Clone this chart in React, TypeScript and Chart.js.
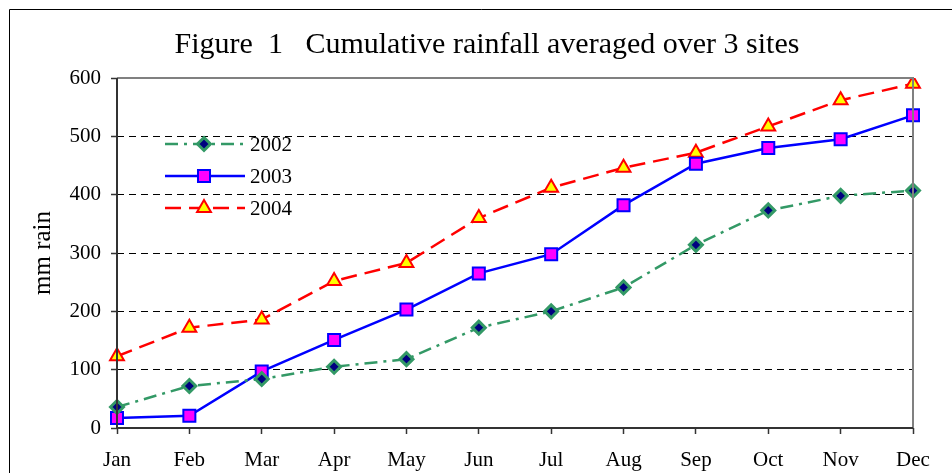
import React, { useEffect, useRef } from "react";
import { Chart, registerables } from "chart.js";

Chart.register(...registerables);

const months = ["Jan", "Feb", "Mar", "Apr", "May", "Jun", "Jul", "Aug", "Sep", "Oct", "Nov", "Dec"];
const rain2002 = [36, 72, 84, 105, 118, 172, 200, 241, 314, 373, 398, 407];
const rain2003 = [17, 21, 97, 151, 203, 265, 298, 382, 453, 480, 495, 536];
const rain2004 = [123, 172, 186, 252, 283, 360, 412, 446, 472, 517, 562, 590];
const seriesNames = ["2002", "2003", "2004"];
const yTicks = [0, 100, 200, 300, 400, 500, 600];
const titleText = "Figure  1   Cumulative rainfall averaged over 3 sites";
const yTitle = "mm rain";

const SERIF = "'Liberation Serif', 'Times New Roman', serif";

function drawMarker(ctx: CanvasRenderingContext2D, style: string, r: number, x: number, y: number) {
  ctx.beginPath();
  if (style === "rect") {
    const s = Math.SQRT1_2 * r;
    ctx.rect(x - s, y - s, 2 * s, 2 * s);
  } else if (style === "rectRot") {
    ctx.moveTo(x, y - r);
    ctx.lineTo(x + r, y);
    ctx.lineTo(x, y + r);
    ctx.lineTo(x - r, y);
    ctx.closePath();
  } else if (style === "triangle") {
    const a = (2 * Math.PI) / 3;
    ctx.moveTo(x, y - r);
    ctx.lineTo(x + Math.sin(a) * r, y - Math.cos(a) * r);
    ctx.lineTo(x + Math.sin(2 * a) * r, y - Math.cos(2 * a) * r);
    ctx.closePath();
  }
  ctx.fill();
  ctx.stroke();
}

const decorPlugin = {
  id: "decor",
  beforeDraw(chart: any) {
    const ctx = chart.ctx;
    ctx.save();
    ctx.fillStyle = "#ffffff";
    ctx.fillRect(0, 0, chart.width, chart.height);
    ctx.restore();
  },
  afterDraw(chart: any) {
    const ctx = chart.ctx;
    const a = chart.chartArea;
    ctx.save();
    // outer frame (top & left visible)
    ctx.strokeStyle = "#000000";
    ctx.lineWidth = 1;
    ctx.beginPath();
    ctx.moveTo(9.5, chart.height + 5);
    ctx.lineTo(9.5, 9.5);
    ctx.lineTo(chart.width + 5, 9.5);
    ctx.stroke();

    // title
    ctx.fillStyle = "#000000";
    ctx.font = `30px ${SERIF}`;
    ctx.textAlign = "center";
    ctx.textBaseline = "middle";
    ctx.fillText(titleText, 487, 45);

    // y title
    ctx.save();
    ctx.translate(43, 253);
    ctx.rotate(-Math.PI / 2);
    ctx.font = `25px ${SERIF}`;
    ctx.fillText(yTitle, 0, 0);
    ctx.restore();

    // legend
    const rows = [144, 176, 208];
    chart.data.datasets.forEach((ds: any, i: number) => {
      const y = rows[i];
      ctx.save();
      ctx.strokeStyle = ds.borderColor;
      ctx.lineWidth = ds.borderWidth;
      ctx.setLineDash(ds.borderDash || []);
      ctx.beginPath();
      ctx.moveTo(165, y);
      ctx.lineTo(245, y);
      ctx.stroke();
      ctx.restore();
      ctx.save();
      ctx.fillStyle = ds.pointBackgroundColor;
      ctx.strokeStyle = ds.pointBorderColor;
      ctx.lineWidth = ds.pointBorderWidth;
      ctx.setLineDash([]);
      drawMarker(ctx, ds.pointStyle, ds.pointRadius, 204, y);
      ctx.restore();
      ctx.fillStyle = "#000000";
      ctx.font = `21px ${SERIF}`;
      ctx.textAlign = "left";
      ctx.textBaseline = "middle";
      ctx.fillText(ds.label, 250, y + 1);
    });

    // plot frame
    ctx.lineWidth = 2;
    ctx.strokeStyle = "#808080";
    ctx.beginPath();
    ctx.moveTo(a.left, a.top);
    ctx.lineTo(a.right, a.top);
    ctx.lineTo(a.right, a.bottom);
    ctx.stroke();
    ctx.strokeStyle = "#333333";
    ctx.beginPath();
    ctx.moveTo(a.left, a.top);
    ctx.lineTo(a.left, a.bottom);
    ctx.lineTo(a.right, a.bottom);
    ctx.stroke();
    ctx.restore();
  },
};

export default function App() {
  const ref = useRef<HTMLCanvasElement | null>(null);
  useEffect(() => {
    if (!ref.current) return;
    const chart = new Chart(ref.current, {
      type: "line",
      data: {
        labels: months,
        datasets: [
          {
            label: seriesNames[0],
            data: rain2002,
            borderColor: "#339966",
            borderWidth: 2.5,
            borderDash: [13, 6, 3, 6],
            pointStyle: "rectRot",
            pointRadius: 6.5,
            pointBorderWidth: 3,
            pointBackgroundColor: "#000080",
            pointBorderColor: "#339966",
            tension: 0,
          },
          {
            label: seriesNames[1],
            data: rain2003,
            borderColor: "#0000FF",
            borderWidth: 2.5,
            borderDash: [],
            pointStyle: "rect",
            pointRadius: 8.5,
            pointBorderWidth: 2,
            pointBackgroundColor: "#FF00FF",
            pointBorderColor: "#0000FF",
            tension: 0,
          },
          {
            label: seriesNames[2],
            data: rain2004,
            borderColor: "#FF0000",
            borderWidth: 2.5,
            borderDash: [16, 8],
            pointStyle: "triangle",
            pointRadius: 8,
            pointBorderWidth: 2,
            pointBackgroundColor: "#FFFF00",
            pointBorderColor: "#FF0000",
            tension: 0,
          },
        ],
      },
      options: {
        animation: false,
        responsive: false,
        layout: { padding: { top: 78, right: 39, left: 0, bottom: 0 } },
        plugins: {
          legend: { display: false },
          title: { display: false },
          tooltip: { enabled: false },
        },
        scales: {
          x: {
            offset: false,
            grid: {
              drawOnChartArea: false,
              drawTicks: true,
              tickLength: 6,
              tickColor: "#333333",
              tickWidth: 1.5,
            },
            border: { display: false },
            ticks: {
              color: "#000000",
              font: { family: SERIF, size: 21 },
              padding: 14,
              maxRotation: 0,
              autoSkip: false,
            },
            afterFit: (s: any) => {
              s.height = 45;
            },
          },
          y: {
            min: 0,
            max: 600,
            afterBuildTicks: (s: any) => {
              s.ticks = yTicks.map((v) => ({ value: v }));
            },
            grid: {
              color: (c: any) => (c.tick && (c.tick.value === 0 || c.tick.value === 600) ? "rgba(0,0,0,0)" : "#000000"),
              lineWidth: 1,
              drawTicks: true,
              tickLength: 6,
              tickColor: "#333333",
              tickWidth: 1.5,
              tickBorderDash: [],
            },
            border: { display: false, dash: [7, 5] },
            ticks: {
              color: "#000000",
              font: { family: SERIF, size: 21 },
              padding: 10,
            },
            afterFit: (s: any) => {
              s.width = 117;
            },
          },
        },
      },
      plugins: [decorPlugin],
    });
    return () => chart.destroy();
  }, []);
  return (
    <div style={{ position: "fixed", left: 0, top: 0, width: 952, height: 473, background: "#fff" }}>
      <canvas ref={ref} width={952} height={473} style={{ width: 952, height: 473, display: "block" }} />
    </div>
  );
}
